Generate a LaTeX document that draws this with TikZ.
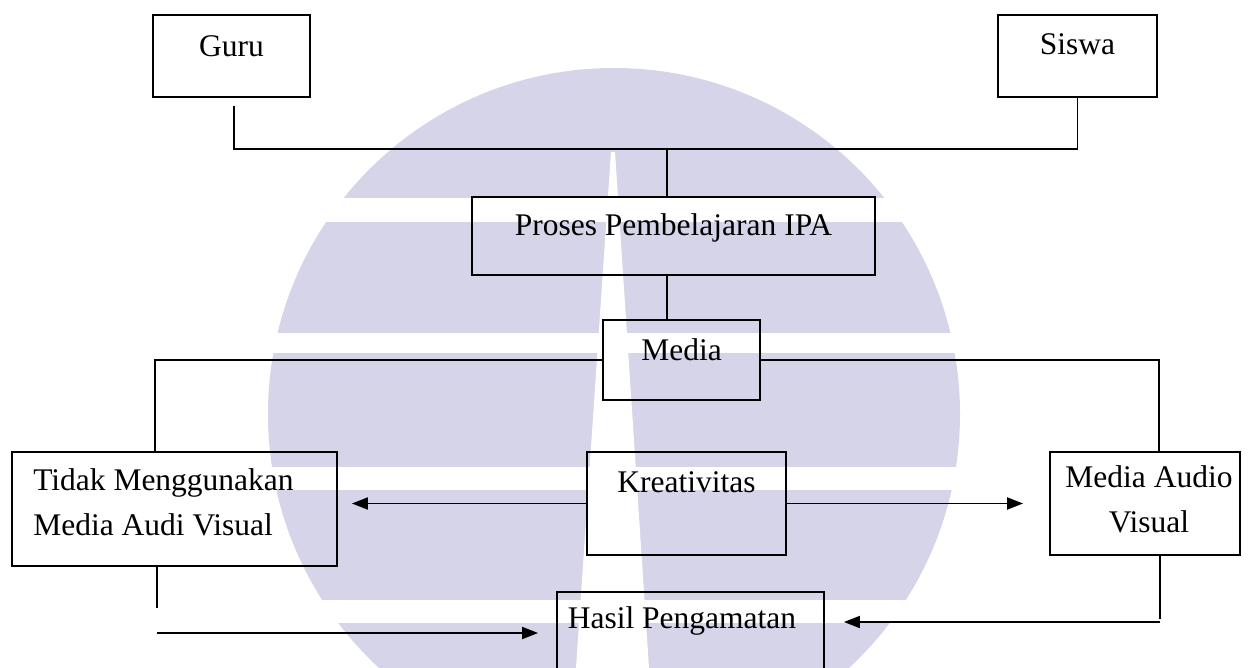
\documentclass[tikz,border=0pt]{standalone}
\usepackage{fontspec}
\setmainfont{Liberation Serif}
\usetikzlibrary{arrows.meta}
\definecolor{wm}{RGB}{213,212,233}
\newcommand\bt[2]{\raisebox{#1pt}[0pt][0pt]{\begin{tabular}[b]{@{}c@{}}#2\end{tabular}}}
\newcommand\btl[2]{\raisebox{#1pt}[0pt][0pt]{\begin{tabular}[b]{@{}l@{}}#2\end{tabular}}}
\begin{document}
\begin{tikzpicture}[x=1pt,y=-1pt,
  boxnode/.style={draw=black, line width=1.8pt, inner sep=0pt, rectangle,
    font=\fontsize{31.5}{45}\selectfont},
  link/.style={line width=1.8pt},
  arr/.style={link, -{Triangle[length=16pt,width=12pt]}}]
\useasboundingbox (0,0) rectangle (1253,668);
\begin{scope}
\clip (0,0) rectangle (1253,668);
% watermark
\fill[wm] (614,414) circle[radius=346];
\fill[white] (0,198) rectangle (1253,222);
\fill[white] (0,333) rectangle (1253,353);
\fill[white] (0,467) rectangle (1253,490);
\fill[white] (0,600) rectangle (1253,623);
\fill[white] (611,152) -- (615,152) -- (649,668) -- (576,668) -- cycle;
% boxes
\node[boxnode, minimum width=157pt, minimum height=82pt] (guru) at (231.5,56) {\bt{-1}{Guru}};
\node[boxnode, minimum width=159pt, minimum height=82pt] (siswa) at (1077.5,56) {\bt{1}{Siswa}};
\node[boxnode, minimum width=403pt, minimum height=78pt] (proses) at (673.5,236) {\bt{0}{Proses Pembelajaran IPA}};
\node[boxnode, minimum width=157pt, minimum height=80pt] (media) at (681.5,360) {\bt{0}{Media}};
\node[boxnode, minimum width=325pt, minimum height=114pt] (tidak) at (174.5,509) {\btl{-26}{Tidak Menggunakan\\Media Audi Visual}\hspace*{22pt}};
\node[boxnode, minimum width=199pt, minimum height=103pt] (kreat) at (686.5,503.5) {\bt{11.5}{Kreativitas}};
\node[boxnode, minimum width=190pt, minimum height=103pt] (mav) at (1145,503.5) {\hspace*{8pt}\bt{-28.5}{Media Audio\\Visual}};
\node[boxnode, minimum width=267pt, minimum height=108pt] (hasil) at (690.5,646) {\bt{18}{Hasil Pengamatan}\hspace*{17pt}};
% junctions
\coordinate (j1) at (667,149);
\coordinate (lx) at (155,360);
\coordinate (rx) at (1159,360);
\coordinate (la) at (157,633);
\coordinate (ra) at (1160,622);
% connectors
\draw[link] ([xshift=2.5pt]guru.south) ++(0,8) |- (j1);
\draw[link] (j1) -| (siswa.south);
\draw[link] (j1) -- (j1 |- proses.north);
\draw[link] (j1 |- proses.south) -- (j1 |- media.north);
\draw[link] (media.west) -- (lx) -- (lx |- tidak.north);
\draw[link] (media.east) -- (rx) -- (rx |- mav.north);
\draw[arr, shorten >=14pt] (kreat.west) -- (kreat.west -| tidak.east);
\draw[arr, shorten >=26pt] (kreat.east) -- (kreat.east -| mav.west);
\draw[link] (la |- tidak.south) -- ++(0,41);
\draw[arr, shorten >=18pt] (la) -- (la -| hasil.west);
\draw[link] (ra |- mav.south) -- ++(0,63);
\draw[arr, shorten >=19pt] (ra) -- (ra -| hasil.east);
\end{scope}
\end{tikzpicture}
\end{document}
